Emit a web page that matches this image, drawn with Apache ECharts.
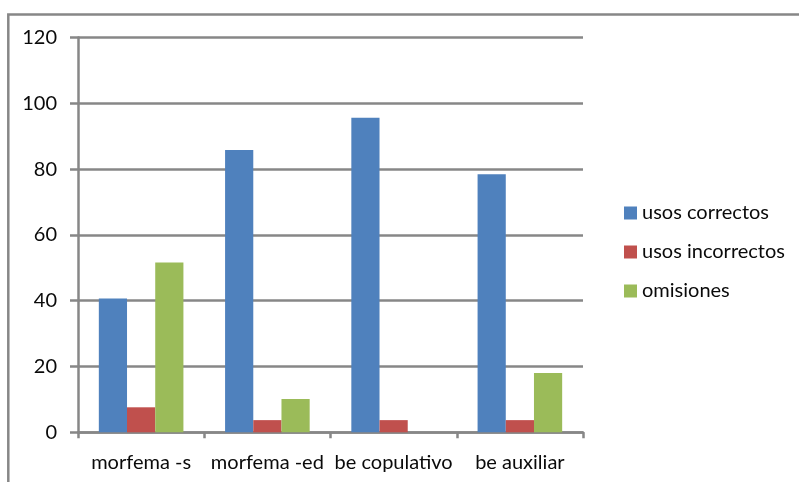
<!DOCTYPE html>
<html>
<head>
<meta charset="utf-8">
<script src="https://cdn.jsdelivr.net/npm/echarts@6/dist/echarts.min.js"></script>
<style>
  html, body { margin: 0; padding: 0; background: #fff; }
  #chart { width: 799px; height: 482px; }
</style>
</head>
<body>
<div id="chart"></div>
<script>
// Grammatical morphemes: correct uses, incorrect uses and omissions
const categories = ['morfema -s', 'morfema -ed', 'be copulativo', 'be auxiliar'];
const usosCorrectos = [40.7, 85.8, 95.6, 78.4];
const usosIncorrectos = [7.6, 3.7, 3.7, 3.7];
const omisiones = [51.6, 10.1, 0, 18.0];
const seriesNames = ['usos correctos', 'usos incorrectos', 'omisiones'];
const yTicks = { min: 0, max: 120, interval: 20 };

const FONT = 'Lato, "Open Sans", sans-serif';
const GRID_GRAY = '#878787';
const TEXT = '#0a0a0a';

const chart = echarts.init(document.getElementById('chart'), null, { renderer: 'canvas' });

function bar(name, data, color) {
  return {
    name: name,
    type: 'bar',
    data: data,
    barGap: '0%',
    barCategoryGap: '33%',
    itemStyle: { color: color },
    emphasis: { disabled: true }
  };
}

chart.setOption({
  animation: false,
  textStyle: { fontFamily: FONT },
  graphic: [{
    type: 'rect',
    shape: { x: 8.3, y: 14.5, width: 800, height: 480 },
    style: { fill: 'none', stroke: GRID_GRAY, lineWidth: 2.5 },
    silent: true
  }],
  grid: { left: 78, right: 216, top: 37.5, bottom: 49.7, containLabel: false },
  legend: {
    orient: 'vertical',
    left: 619,
    top: 198,
    itemWidth: 13,
    itemHeight: 13,
    itemGap: 19,
    icon: 'rect',
    textStyle: { fontFamily: FONT, fontSize: 20, lineHeight: 20, color: TEXT },
    data: seriesNames
  },
  xAxis: {
    type: 'category',
    data: categories,
    axisLine: { show: true, lineStyle: { color: GRID_GRAY, width: 2.5 } },
    axisTick: { show: true, length: 6, lineStyle: { color: GRID_GRAY, width: 2.5 } },
    axisLabel: { fontFamily: FONT, fontSize: 20, color: TEXT, margin: 20, interval: 0 }
  },
  yAxis: {
    type: 'value',
    min: yTicks.min,
    max: yTicks.max,
    interval: yTicks.interval,
    axisLine: { show: true, lineStyle: { color: GRID_GRAY, width: 2.5 } },
    axisTick: { show: true, length: 8, lineStyle: { color: GRID_GRAY, width: 2.5 } },
    axisLabel: { fontFamily: FONT, fontSize: 20, color: TEXT, margin: 21 },
    splitLine: { show: true, lineStyle: { color: GRID_GRAY, width: 2.5 } }
  },
  series: [
    bar(seriesNames[0], usosCorrectos, '#4F81BD'),
    bar(seriesNames[1], usosIncorrectos, '#C0504D'),
    bar(seriesNames[2], omisiones, '#9BBB59')
  ]
});
</script>
</body>
</html>
